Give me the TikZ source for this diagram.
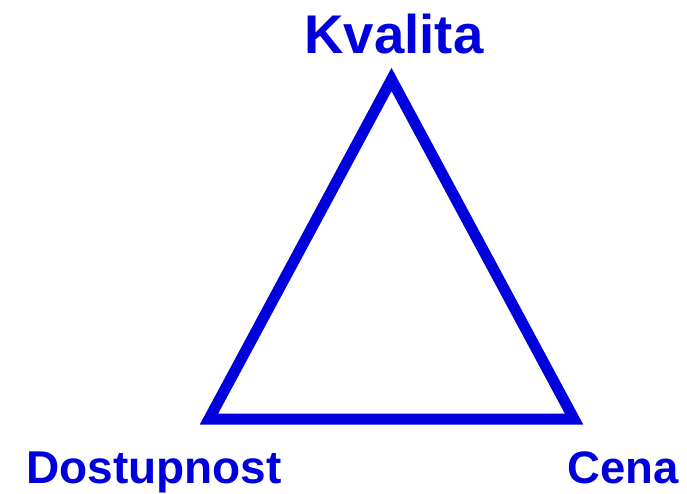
\documentclass[tikz,border=0pt]{standalone}
\usepackage{fontspec}
\setmainfont{Liberation Sans}
\definecolor{tblue}{RGB}{0,0,221}
\begin{document}
\begin{tikzpicture}[x=1pt,y=-1pt,
  lbl/.style={text=tblue,font=\bfseries,anchor=base,inner sep=0pt},
  edge/.style={draw=tblue,line width=11pt,line join=miter}]
\useasboundingbox (0,0) rectangle (687,493);
\coordinate (top) at (391.5,79.5);
\coordinate (left) at (209,419);
\coordinate (right) at (574,419);
\draw[edge] (top) -- (left) -- (right) -- cycle;
\node[lbl,font=\bfseries\fontsize{54.5}{60}\selectfont] (k) at (394,53) {Kvalita};
\node[lbl,font=\bfseries\fontsize{46}{52}\selectfont] (d) at (154,483) {Dostupnost};
\node[lbl,font=\bfseries\fontsize{45.5}{52}\selectfont] (c) at (623,483) {Cena};
\end{tikzpicture}
\end{document}
